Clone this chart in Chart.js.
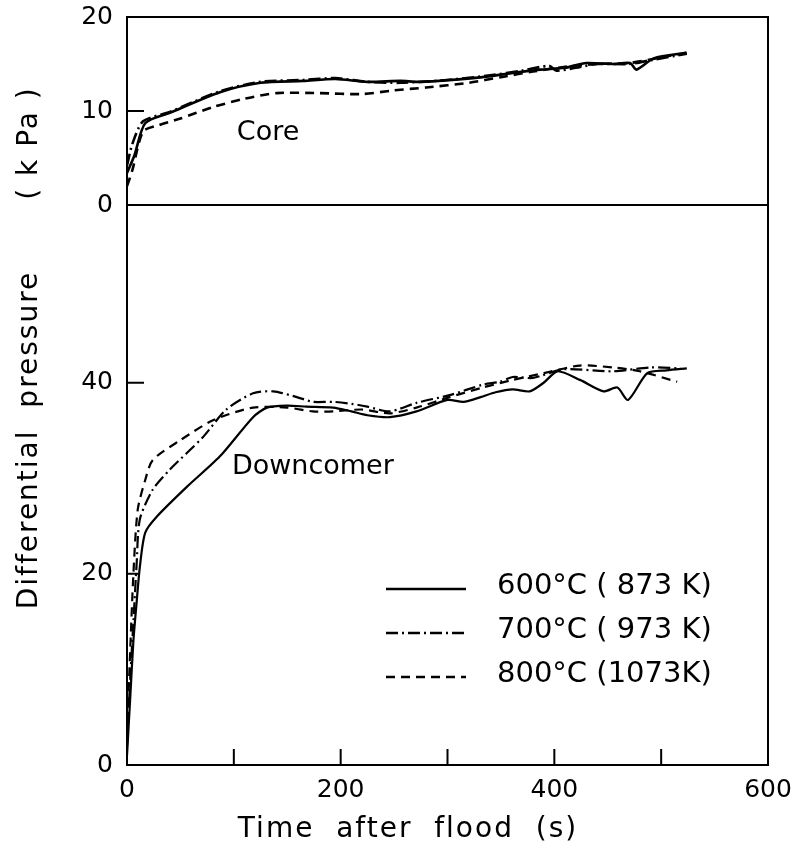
<!doctype html>
<html>

<head>
    <title>Differential pressure</title>
    <script src="https://cdn.jsdelivr.net/npm/chart.js"></script>
    <style>
        body { margin: 0; background: #fff; }
        #wrap { position: relative; width: 793px; height: 859px; }
    </style>
</head>

<body>
    <div id="wrap">
        <canvas id="myChart" width="793" height="859"></canvas>
    </div>
    <script>
        // legend text
        const seriesLabels = ['600°C ( 873 K)', '700°C ( 973 K)', '800°C (1073K)'];

        // Core panel (kPa)
        const coreTime600 = [0, 7, 17, 40, 87, 125, 165, 195, 225, 256, 274, 324, 365, 387, 410, 430, 455, 471, 477, 493, 524];
        const coreVal600 = [3.4, 5.3, 8.7, 9.8, 12.0, 13.0, 13.2, 13.4, 13.1, 13.2, 13.1, 13.5, 14.1, 14.4, 14.6, 15.1, 15.0, 15.1, 14.4, 15.6, 16.2];
        const coreTime700 = [0, 5, 15, 40, 87, 125, 165, 195, 225, 256, 300, 340, 370, 395, 402, 420, 440, 470, 490, 524];
        const coreVal700 = [4.2, 6.5, 8.9, 9.9, 12.1, 13.1, 13.3, 13.5, 13.1, 13.0, 13.3, 13.8, 14.3, 14.8, 14.3, 14.6, 15.0, 15.0, 15.4, 16.1];
        const coreTime800 = [0, 5, 15, 30, 50, 80, 110, 140, 180, 220, 250, 280, 320, 350, 380, 410, 440, 470, 500, 524];
        const coreVal800 = [2.0, 3.7, 7.8, 8.5, 9.2, 10.4, 11.3, 11.9, 11.9, 11.8, 12.2, 12.5, 13.0, 13.6, 14.2, 14.7, 15.0, 15.1, 15.7, 16.2];

        // Downcomer panel (kPa)
        const downTime600 = [0, 3, 6, 9, 12, 17, 28, 56, 87, 118, 131, 150, 168, 193, 210, 225, 246, 271, 300, 315, 331, 345, 361, 377, 390, 403, 424, 446, 459, 469, 487, 505, 524];
        const downVal600 = [1, 7, 13, 17, 20.7, 24.3, 26.0, 29.1, 32.3, 36.4, 37.4, 37.6, 37.5, 37.4, 37.0, 36.6, 36.4, 37.0, 38.2, 38.0, 38.5, 39.0, 39.3, 39.1, 40.0, 41.2, 40.3, 39.1, 39.5, 38.2, 41.0, 41.3, 41.5];
        const downTime700 = [0, 3, 6, 9, 12, 24, 40, 71, 93, 118, 137, 159, 174, 193, 210, 225, 246, 271, 302, 333, 349, 361, 380, 408, 455, 490, 518];
        const downVal700 = [2, 9, 15, 21, 25.7, 28.8, 30.9, 34.3, 37.2, 38.9, 39.1, 38.5, 38.0, 38.0, 37.8, 37.5, 37.0, 37.9, 38.7, 39.8, 40.1, 40.6, 40.5, 41.4, 41.2, 41.6, 41.5];
        const downTime800 = [0, 3, 6, 10, 17, 24, 50, 81, 118, 150, 174, 193, 220, 246, 271, 302, 333, 361, 390, 424, 455, 480, 515];
        const downVal800 = [3, 12, 20, 26.7, 29.8, 31.9, 34.0, 36.1, 37.4, 37.4, 37.0, 37.0, 37.2, 36.8, 37.4, 38.5, 39.5, 40.3, 41.0, 41.8, 41.6, 41.2, 40.1];

        const xTicks = [0, 200, 400, 600];
        const xMinorTicks = [100, 200, 300, 400, 500];
        const coreTicks = [0, 10, 20];
        const downTicks = [0, 20, 40];

        const dashes = [[], [12, 4, 2, 4], [9, 6]];
        const fontFam = "'DejaVu Sans', 'Liberation Sans', sans-serif";

        function pts(t, v) {
            return t.map((x, i) => ({ x: x, y: v[i] }));
        }

        function line(t, v, k, axis) {
            return {
                label: seriesLabels[k],
                data: pts(t, v),
                yAxisID: axis,
                borderColor: '#000',
                borderWidth: axis === 'yCore' ? 2.6 : 2.2,
                borderDash: dashes[k],
                pointRadius: 0,
                tension: 0.25,
                fill: false
            };
        }

        // fixed box sizes, and no extra room asked for the end labels
        function fitBox(s, w, h) {
            if (w) s.width = w;
            if (h) s.height = h;
            s.paddingTop = 0;
            s.paddingBottom = 0;
            s.paddingLeft = 0;
            s.paddingRight = 0;
        }

        // frame, inward ticks, texts and legend
        const decor = {
            id: 'decor',
            afterDraw(chart) {
                const c = chart.ctx;
                const a = chart.chartArea;
                const sx = chart.scales.x, sc = chart.scales.yCore, sd = chart.scales.yDown;
                c.save();
                c.strokeStyle = '#000';
                c.lineWidth = 2;
                c.setLineDash([]);
                c.beginPath();
                c.moveTo(a.left, a.top); c.lineTo(a.right, a.top); c.lineTo(a.right, a.bottom);
                const z = sc.getPixelForValue(0);
                c.moveTo(a.left, z); c.lineTo(a.right, z);
                // inward ticks
                xMinorTicks.forEach(v => {
                    const px = sx.getPixelForValue(v);
                    c.moveTo(px, a.bottom); c.lineTo(px, a.bottom - 16);
                });
                const py = sc.getPixelForValue(10);
                c.moveTo(a.left, py); c.lineTo(a.left + 17, py);
                const p40 = sd.getPixelForValue(40);
                c.moveTo(a.left, p40); c.lineTo(a.left + 17, p40);
                const p20 = sd.getPixelForValue(20);
                c.moveTo(a.left, p20); c.lineTo(a.left + 11, p20);
                c.stroke();

                c.fillStyle = '#000';
                c.font = '27px ' + fontFam;
                c.textAlign = 'center';
                c.textBaseline = 'middle';
                c.fillText('Core', sx.getPixelForValue(132), sc.getPixelForValue(7.7));
                c.fillText('Downcomer', sx.getPixelForValue(174), sd.getPixelForValue(31.2));

                // axis titles
                c.font = '28px ' + fontFam;
                c.letterSpacing = '2px';
                c.fillText('Time  after  flood  (s)', 408, 830);
                c.save();
                c.translate(30, 0);
                c.rotate(-Math.PI / 2);
                c.fillText('Differential  pressure', -440, 0);
                c.fillText('( k Pa )', -143, 0);
                c.restore();
                c.letterSpacing = '0px';

                // legend
                c.font = '29px ' + fontFam;
                c.textAlign = 'left';
                seriesLabels.forEach((s, i) => {
                    const y = 589 + i * 44;
                    c.setLineDash(dashes[i]);
                    c.lineWidth = 2.6;
                    c.beginPath();
                    c.moveTo(386, y); c.lineTo(466, y);
                    c.stroke();
                    c.fillText(s, 497, y - 3);
                });
                c.restore();
            }
        };

        const tickFont = { family: fontFam, size: 25 };

        const ctx = document.getElementById('myChart').getContext('2d');
        const myChart = new Chart(ctx, {
            type: 'line',
            data: {
                datasets: [
                    line(coreTime600, coreVal600, 0, 'yCore'),
                    line(coreTime700, coreVal700, 1, 'yCore'),
                    line(coreTime800, coreVal800, 2, 'yCore'),
                    line(downTime600, downVal600, 0, 'yDown'),
                    line(downTime700, downVal700, 1, 'yDown'),
                    line(downTime800, downVal800, 2, 'yDown')
                ]
            },
            options: {
                responsive: false,
                animation: false,
                events: [],
                // plot frame: left 127, top 17, right 768, bottom 765
                layout: { padding: { left: 67, right: 25, top: 17, bottom: 44 } },
                plugins: { legend: { display: false }, tooltip: { enabled: false } },
                scales: {
                    x: {
                        type: 'linear',
                        min: 0,
                        max: 600,
                        afterBuildTicks: s => { s.ticks = xTicks.map(v => ({ value: v })); },
                        afterFit: s => fitBox(s, 0, 50),
                        grid: { display: false, drawTicks: false },
                        border: { display: true, color: '#000', width: 2 },
                        ticks: { color: '#000', padding: 10, maxRotation: 0, font: tickFont }
                    },
                    yDown: {
                        type: 'linear',
                        position: 'left',
                        stack: 'panels',
                        stackWeight: 560,
                        weight: 1,
                        min: 0,
                        max: 58.6,
                        afterBuildTicks: s => { s.ticks = downTicks.map(v => ({ value: v })); },
                        afterFit: s => fitBox(s, 60, 0),
                        grid: { display: false, drawTicks: false },
                        border: { display: true, color: '#000', width: 2 },
                        ticks: { color: '#000', padding: 14, font: tickFont }
                    },
                    yCore: {
                        type: 'linear',
                        position: 'left',
                        stack: 'panels',
                        stackWeight: 188,
                        weight: 2,
                        min: 0,
                        max: 20,
                        afterBuildTicks: s => { s.ticks = coreTicks.map(v => ({ value: v })); },
                        afterFit: s => fitBox(s, 60, 0),
                        grid: { display: false, drawTicks: false },
                        border: { display: true, color: '#000', width: 2 },
                        ticks: { color: '#000', padding: 14, font: tickFont }
                    }
                }
            },
            plugins: [decor]
        });
    </script>
</body>

</html>
